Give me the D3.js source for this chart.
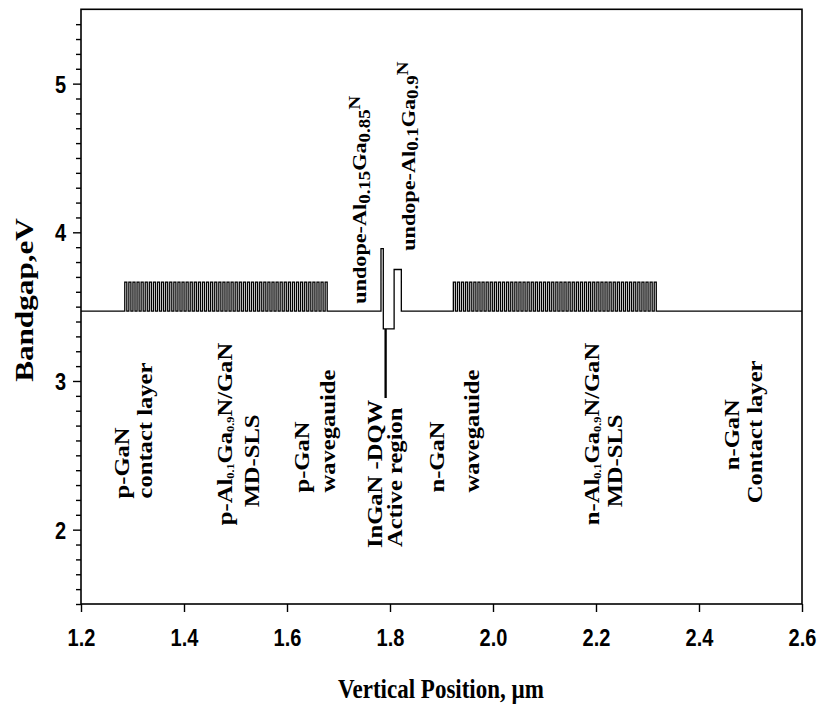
<!DOCTYPE html>
<html>
<head>
<meta charset="utf-8">
<script src="https://cdn.jsdelivr.net/npm/d3@7"></script>
<style>
  body { margin: 0; background: #fff; }
  .tick-lbl { font-family: "Liberation Sans", Arial, sans-serif; font-weight: bold; font-size: 20px; }
  .serif { font-family: "Liberation Serif", "Times New Roman", serif; font-weight: bold; }
</style>
</head>
<body>
<div id="chart"></div>
<script>
// axis ticks
const xTicks = [1.2, 1.4, 1.6, 1.8, 2.0, 2.2, 2.4, 2.6]
const yTicks = [2, 3, 4, 5]

// bandgap levels (eV)
const gapGaN = 3.47
const gapSLS = 3.665

// superlattice blocks (um) and number of periods
const slsStart = [1.285, 1.923]
const slsEnd = [1.682, 2.321]
const slsPeriods = [50, 50]

// active region corner points
const activeX = [1.7825, 1.7825, 1.787, 1.787, 1.7905, 1.7905, 1.7925, 1.7925, 1.808, 1.808, 1.822, 1.822]
const activeE = [gapGaN, 3.89, 3.89, 3.35, 3.35, 2.89, 2.89, 3.35, 3.35, 3.75, 3.75, gapGaN]

// layer labels: text parts [text, kind], x (um), start (eV)
const labels = [
  [[["p-GaN", ""]], 1.279, 2.21],
  [[["contact layer", ""]], 1.324, 2.21],
  [[["p-Al", ""], ["0.1", "sub"], ["Ga", ""], ["0.9", "sub"], ["N/GaN", ""]], 1.480, 2.03],
  [[["MD-SLS", ""]], 1.532, 2.15],
  [[["p-GaN", ""]], 1.629, 2.25],
  [[["wavegauide", ""]], 1.680, 2.25],
  [[["InGaN -DQW", ""]], 1.771, 1.876],
  [[["Active region", ""]], 1.810, 1.883],
  [[["n-GaN", ""]], 1.891, 2.25],
  [[["wavegauide", ""]], 1.959, 2.25],
  [[["n-Al", ""], ["0.1", "sub"], ["Ga", ""], ["0.9", "sub"], ["N/GaN", ""]], 2.192, 2.03],
  [[["MD-SLS", ""]], 2.237, 2.15],
  [[["n-GaN", ""]], 2.463, 2.40],
  [[["Contact layer", ""]], 2.509, 2.178]
]
const smallLabels = [
  [[["undope-Al", ""], ["0.15", "sub"], ["Ga", ""], ["0.85", "sub"], ["N", "sup"]], 1.741, 3.52],
  [[["undope-Al", ""], ["0.1", "sub"], ["Ga", ""], ["0.9", "sub"], ["N", "sup"]], 1.835, 3.876]
]

const W = 819, H = 709
const STRETCH = 1.2   // text in the figure is stretched vertically
const svg = d3.select("#chart").append("svg")
  .attr("width", W).attr("height", H)

const x = d3.scaleLinear().domain([1.2, 2.6]).range([81, 802])
const y = d3.scaleLinear().domain([1.5, 5.5]).range([604, 9.3])

// build profile
let pts = [[1.2, gapGaN]]
slsStart.forEach((s, i) => {
  const step = (slsEnd[i] - s) / slsPeriods[i]
  pts.push([s, gapGaN])
  for (let k = 0; k < slsPeriods[i]; k++) {
    const a = s + k * step, b = a + step / 2, c = a + step
    pts.push([a, gapSLS], [b, gapSLS], [b, gapGaN], [c, gapGaN])
  }
  if (i === 0) activeX.forEach((v, j) => pts.push([v, activeE[j]]))
})
pts.push([2.6, gapGaN])

svg.append("path")
  .datum(pts)
  .attr("fill", "none")
  .attr("stroke", "#000")
  .attr("stroke-width", 1.3)
  .attr("d", d3.line().x(d => x(d[0])).y(d => y(d[1])))

// frame
svg.append("rect")
  .attr("x", x(1.2)).attr("y", y(5.5))
  .attr("width", x(2.6) - x(1.2)).attr("height", y(1.5) - y(5.5))
  .attr("fill", "none").attr("stroke", "#000").attr("stroke-width", 1.6)

// axes
const xAxis = svg.append("g").attr("transform", `translate(0,${y(1.5)})`)
  .call(d3.axisBottom(x).tickValues(xTicks).tickSize(8).tickFormat(d3.format(".1f")))
xAxis.select(".domain").remove()
xAxis.selectAll("text").attr("class", "tick-lbl").attr("fill", "#000")
  .attr("y", 0).attr("dy", null)
  .attr("transform", `translate(0,42) scale(1,${STRETCH})`)
  .attr("font-size", null).attr("font-family", null)

const yMinor = d3.range(15, 55).map(v => v / 10).filter(v => !yTicks.includes(v))
svg.append("g").attr("transform", `translate(${x(1.2)},0)`)
  .call(d3.axisLeft(y).tickValues(yMinor).tickSize(5).tickFormat(""))
  .select(".domain").remove()
const yAxis = svg.append("g").attr("transform", `translate(${x(1.2)},0)`)
  .call(d3.axisLeft(y).tickValues(yTicks).tickSize(8).tickFormat(d3.format("d")))
yAxis.select(".domain").remove()
yAxis.selectAll("text").attr("class", "tick-lbl").attr("fill", "#000")
  .attr("x", 0).attr("dy", null)
  .attr("transform", `translate(-15,8.5) scale(1,${STRETCH})`)
  .attr("font-size", null).attr("font-family", null)
svg.selectAll(".tick line").attr("stroke-width", 1.4)

// axis titles
svg.append("text").attr("class", "serif")
  .attr("transform", `translate(441,698) scale(1,${STRETCH})`)
  .attr("text-anchor", "middle").attr("font-size", 23)
  .text("Vertical Position, \u00b5m")
svg.append("text").attr("class", "serif")
  .attr("transform", `translate(33,300) rotate(-90) scale(${STRETCH},1)`)
  .attr("text-anchor", "middle").attr("font-size", 26)
  .text("Bandgap,eV")

function drawLabel(parts, ux, ue, size, subRatio) {
  const t = svg.append("text").attr("class", "serif")
    .attr("transform", `translate(${x(ux)},${y(ue)}) rotate(-90) scale(${STRETCH},1)`)
    .attr("font-size", size).attr("dy", "0.35em")
  parts.forEach(([s, k]) => {
    const ts = t.append("tspan").text(s)
    if (k === "sub") ts.attr("font-size", size * subRatio).attr("baseline-shift", "-22%")
    if (k === "sup") ts.attr("font-size", size * subRatio).attr("baseline-shift", "40%")
  })
}
labels.forEach(l => drawLabel(l[0], l[1], l[2], 20.5, 0.5))
smallLabels.forEach(l => drawLabel(l[0], l[1], l[2], 18.5, 0.85))
</script>
</body>
</html>
